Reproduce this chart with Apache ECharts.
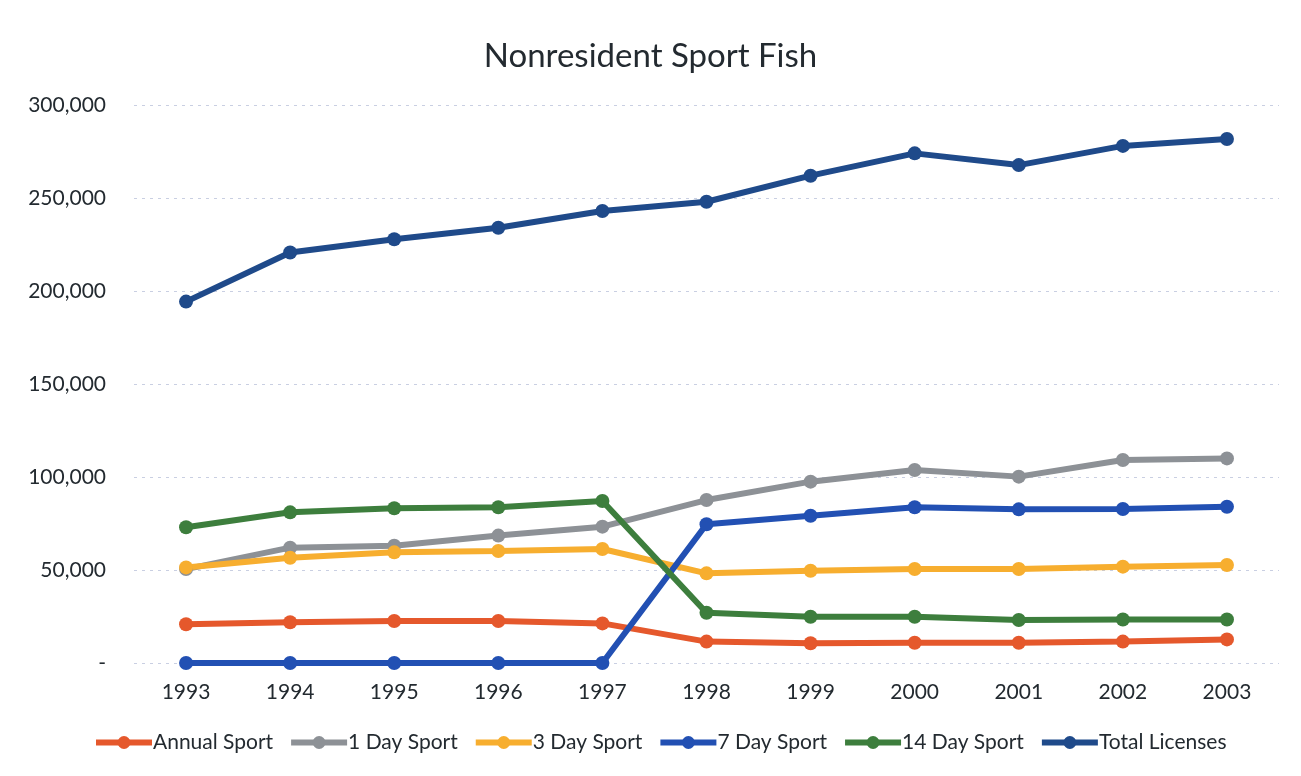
<!DOCTYPE html>
<html>
<head>
<meta charset="utf-8">
<script src="https://cdn.jsdelivr.net/npm/echarts@6/dist/echarts.min.js"></script>
<style>
html, body { margin: 0; padding: 0; background: #fff; }
#chart { width: 1301px; height: 776px; }
</style>
</head>
<body>
<div id="chart"></div>
<script>
// years on the x axis
var years = ['1993', '1994', '1995', '1996', '1997', '1998', '1999', '2000', '2001', '2002', '2003'];

// license counts
var annualSport = [20800, 21900, 22600, 22600, 21300, 11500, 10600, 10900, 10900, 11500, 12700];
var oneDaySport = [50500, 62000, 63000, 68500, 73300, 87600, 97500, 103800, 100200, 109100, 110000];
var threeDaySport = [51400, 56600, 59500, 60200, 61300, 48200, 49600, 50500, 50500, 51800, 52700];
var sevenDaySport = [0, 0, 0, 0, 0, 74600, 79200, 83700, 82600, 82800, 84000];
var fourteenDaySport = [73000, 81000, 83200, 83700, 87100, 27000, 24900, 24900, 23100, 23400, 23400];
var totalLicenses = [194300, 220700, 227800, 234000, 243000, 248000, 262000, 274000, 267700, 278000, 281700];

var yTicks = [0, 50000, 100000, 150000, 200000, 250000, 300000];

var fontFam = 'Lato, "Open Sans", sans-serif';
var textCol = '#232a30';

function mkSeries(name, data, color) {
    return {
        name: name,
        type: 'line',
        data: data,
        symbol: 'circle',
        symbolSize: 14,
        lineStyle: { width: 6, color: color },
        itemStyle: { color: color },
        emphasis: { disabled: true }
    };
}

var myChart = echarts.init(document.getElementById('chart'));
var option = {
    backgroundColor: '#fff',
    animation: false,
    textStyle: { fontFamily: fontFam },
    title: {
        text: 'Nonresident Sport Fish',
        left: 'center',
        top: 35,
        textStyle: { fontSize: 33, fontWeight: 'normal', color: textCol, fontFamily: fontFam }
    },
    legend: {
        bottom: 18,
        left: 88,
        itemWidth: 56,
        itemHeight: 16,
        itemGap: 15,
        lineStyle: { width: 6 },
        textStyle: { fontSize: 21, color: textCol, padding: [0, 0, 0, -4] },
        data: ['Annual Sport', '1 Day Sport', '3 Day Sport', '7 Day Sport', '14 Day Sport', 'Total Licenses']
    },
    grid: { left: 134, right: 22, top: 105, bottom: 113 },
    xAxis: {
        type: 'category',
        data: years,
        boundaryGap: true,
        axisLine: { show: false },
        axisTick: { show: false },
        axisLabel: { fontSize: 21, color: textCol, margin: 19 }
    },
    yAxis: {
        type: 'value',
        min: yTicks[0],
        max: yTicks[yTicks.length - 1],
        interval: 50000,
        axisLine: { show: false },
        axisTick: { show: false },
        axisLabel: {
            fontSize: 21,
            color: textCol,
            margin: 28,
            formatter: function (v) {
                if (v === 0) return '-';
                return v.toLocaleString('en-US');
            }
        },
        splitLine: { lineStyle: { color: '#c9cfe2', type: [3, 5], width: 1 } }
    },
    series: [
        mkSeries('Annual Sport', annualSport, '#e5582c'),
        mkSeries('1 Day Sport', oneDaySport, '#8d9196'),
        mkSeries('3 Day Sport', threeDaySport, '#f7ae2f'),
        mkSeries('7 Day Sport', sevenDaySport, '#2250b3'),
        mkSeries('14 Day Sport', fourteenDaySport, '#3d7e3d'),
        mkSeries('Total Licenses', totalLicenses, '#1f4a8a')
    ]
};
myChart.setOption(option);
</script>
</body>
</html>
